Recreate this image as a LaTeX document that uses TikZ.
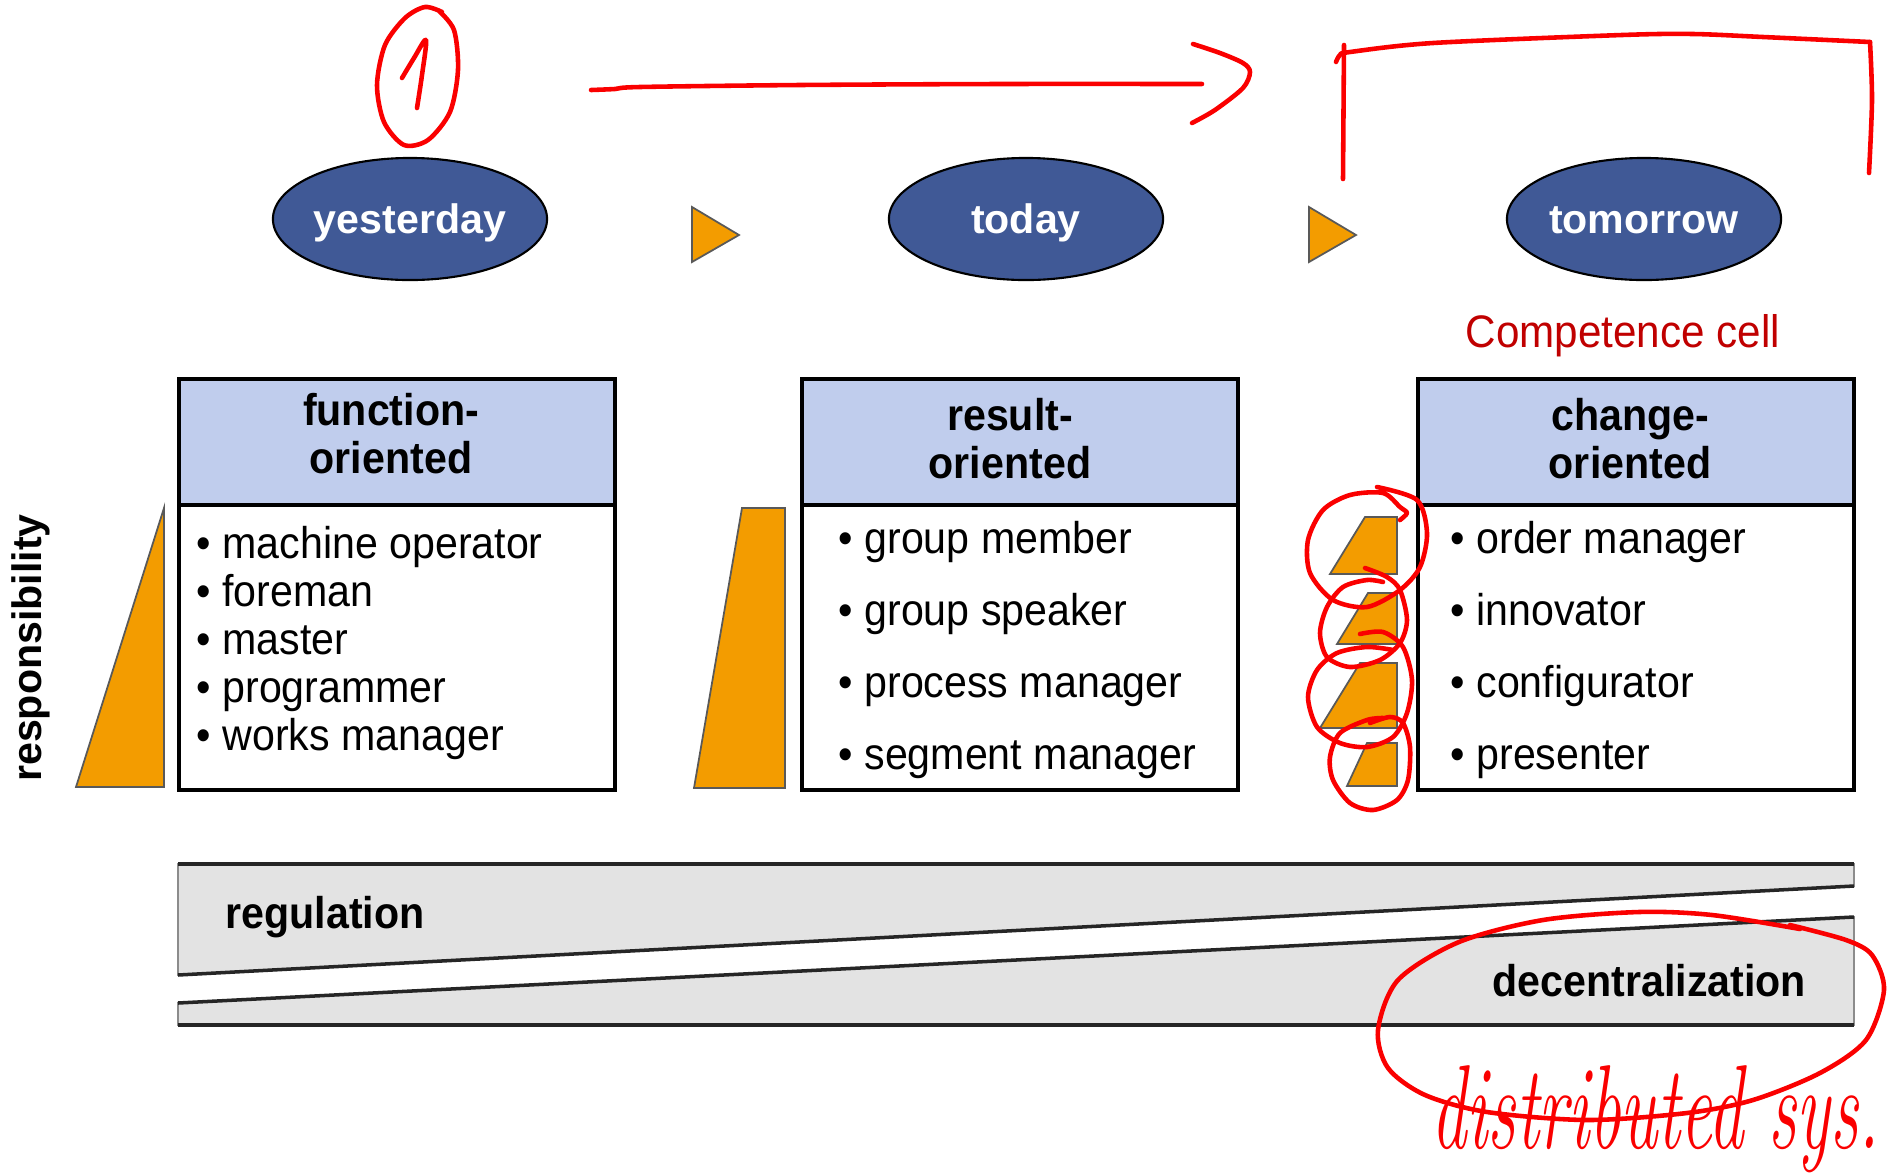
\documentclass[tikz,border=0pt]{standalone}
\usepackage{fontspec}
\setsansfont{Liberation Sans}
\usetikzlibrary{shapes.geometric}

\definecolor{stageblue}{RGB}{64,89,150}
\definecolor{headblue}{RGB}{192,205,237}
\definecolor{resporange}{RGB}{243,156,0}
\definecolor{bandgray}{RGB}{227,227,227}
\definecolor{cellred}{RGB}{192,0,0}
\definecolor{penred}{RGB}{250,0,0}

\newcommand{\diagfont}{\sffamily\fontsize{11.7}{12.6}\selectfont}

\tikzset{
	stage/.style={ellipse, draw=black, line width=0.6pt, fill=stageblue,
		minimum width=2.74cm, minimum height=1.22cm, inner sep=0pt,
		text=white, font=\diagfont\bfseries, text height=0.3cm, text depth=0.02cm},
	txt/.style={font=\diagfont, inner sep=0pt, yscale=1.08},
	heading/.style={txt, font=\diagfont\bfseries, align=center, anchor=north},
	roletext/.style={txt, anchor=base west},
	wedge/.style={draw=black!65, line width=0.5pt, fill=resporange},
	roombox/.style={draw=black, line width=1.1pt},
	band/.style={draw=black!45, line width=0.5pt, fill=bandgray},
	bandedge/.style={draw=black!85, line width=1pt},
	redpen/.style={draw=penred, line width=1.3pt, line cap=round, line join=round}
}

\begin{document}
\begin{tikzpicture}[x=0.01cm, y=-0.01cm]
		\useasboundingbox (0,0) rectangle (1890,1175);

		% the three stages
		\node [stage] (yesterday) at (410,219) {yesterday};
		\node [stage] (today) at (1026,219) {today};
		\node [stage] (tomorrow) at (1644,219) {tomorrow};
		\draw [wedge] (692,207) -- (739,235) -- (692,262) -- cycle;
		\draw [wedge] (1309,207) -- (1356,235) -- (1309,262) -- cycle;

		% function-oriented
		\fill [headblue] (179,379) rectangle (615,505);
		\draw [roombox] (179,379) rectangle (615,790);
		\draw [roombox] (179,505) -- (615,505);
		\node [heading] (head1) at (391,393) {function-\\oriented};
		\foreach \role [count=\i] in {machine operator, foreman, master, programmer, works manager}
			\node [roletext] (func\i) at (196, {510+48*\i}) {\textbullet\ \role};

		% result-oriented
		\fill [headblue] (802,379) rectangle (1238,505);
		\draw [roombox] (802,379) rectangle (1238,790);
		\draw [roombox] (802,505) -- (1238,505);
		\node [heading] (head2) at (1010,398) {result-\\oriented};
		\foreach \role [count=\i] in {group member, group speaker, process manager, segment manager}
			\node [roletext] (res\i) at (838, {480.7+72.3*\i}) {\textbullet\ \role};

		% change-oriented
		\fill [headblue] (1418,379) rectangle (1854,505);
		\draw [roombox] (1418,379) rectangle (1854,790);
		\draw [roombox] (1418,505) -- (1854,505);
		\node [heading] (head3) at (1630,398) {change-\\oriented};
		\foreach \role [count=\i] in {order manager, innovator, configurator, presenter}
			\node [roletext] (chg\i) at (1450, {480.7+72.3*\i}) {\textbullet\ \role};

		% responsibility wedges
		\node [font=\diagfont\bfseries, rotate=90, inner sep=0pt] (resp) at (31,648) {responsibility};
		\draw [wedge] (76,787) -- (164,508) -- (164,787) -- cycle;
		\draw [wedge] (694,788) -- (742,508) -- (785,508) -- (785,788) -- cycle;
		\draw [wedge] (1330,574) -- (1365,517) -- (1397,517) -- (1397,574) -- cycle;
		\draw [wedge] (1337,644) -- (1368,593) -- (1397,593) -- (1397,644) -- cycle;
		\draw [wedge] (1320,728) -- (1360,663) -- (1397,663) -- (1397,728) -- cycle;
		\draw [wedge] (1347,786) -- (1367,743) -- (1397,743) -- (1397,786) -- cycle;

		% regulation vs. decentralization
		\draw [band] (178,864) -- (1854,864) -- (1854,886) -- (178,975) -- cycle;
		\draw [band] (178,1003) -- (1854,917) -- (1854,1025) -- (178,1025) -- cycle;
		\draw [bandedge] (178,864) -- (1854,864);
		\draw [bandedge] (1854,886) -- (178,975);
		\draw [bandedge] (178,1003) -- (1854,917);
		\draw [bandedge] (178,1025) -- (1854,1025);
		\node [txt, font=\diagfont\bfseries, anchor=base west] (regulation) at (225,928) {regulation};
		\node [txt, font=\diagfont\bfseries, anchor=base west] (decentral) at (1492,996) {decentralization};

		% pen notes
		\node [txt, font=\sffamily\fontsize{12}{14}\selectfont, text=cellred, anchor=base west] (cell) at (1465,347) {Competence cell};
		\draw [redpen] plot [smooth] coordinates {(438,10) (454,30) (458,70) (450,112) (428,140) (404,145) (384,122) (377,85) (385,45) (405,18) (425,7) (442,12)};
		\draw [redpen] plot [smooth] coordinates {(402,78) (414,58) (426,40) (422,75) (417,108)};
		\draw [redpen] plot [smooth] coordinates {(591,90) (615,89) (640,87) (800,85) (1000,84) (1202,84)};
		\draw [redpen] plot [smooth] coordinates {(1193,44) (1220,53) (1243,63) (1250,72) (1243,88) (1215,110) (1192,123)};
		\draw [redpen] (1343,179) -- (1344,45);
		\draw [redpen] plot [smooth] coordinates {(1336,62) (1340,55) (1350,52) (1433,43) (1622,35) (1693,34) (1763,37) (1870,42)};
		\draw [redpen] plot [smooth] coordinates {(1870,42) (1872,100) (1869,173)};
		\draw [redpen] plot [smooth] coordinates {(1377,487) (1417,500) (1427,533) (1420,567) (1400,590) (1367,607) (1333,600) (1310,573) (1308,540) (1323,510) (1350,495) (1383,493) (1400,507) (1407,513) (1400,520)};
		\draw [redpen] plot [smooth] coordinates {(1365,568) (1387,577) (1400,590) (1407,620) (1400,643) (1380,660) (1350,667) (1327,657) (1320,633) (1327,607) (1343,587) (1367,580) (1383,582)};
		\draw [redpen] plot [smooth] coordinates {(1360,634) (1383,632) (1403,647) (1412,680) (1407,713) (1393,737) (1367,747) (1340,743) (1317,727) (1308,697) (1317,670) (1337,653) (1367,647) (1393,650)};
		\draw [redpen] plot [smooth] coordinates {(1370,723) (1390,717) (1403,723) (1410,747) (1408,780) (1397,800) (1373,810) (1350,803) (1333,780) (1330,757) (1340,733) (1367,720) (1383,718)};
		\draw [redpen] plot [smooth] coordinates {(1800,929) (1712,915) (1639,912) (1543,920) (1459,942) (1398,980) (1378,1030) (1388,1068) (1425,1095) (1487,1112) (1587,1120) (1687,1113) (1753,1100) (1820,1073) (1866,1040) (1884,990) (1872,955) (1846,940) (1790,925)};
		\node [font=\rmfamily\itshape\fontsize{20}{22}\selectfont, text=penred, yscale=1.7, anchor=base west, inner sep=0pt] (distsys) at (1431,1148) {distributed sys.};
	\end{tikzpicture}
\end{document}
